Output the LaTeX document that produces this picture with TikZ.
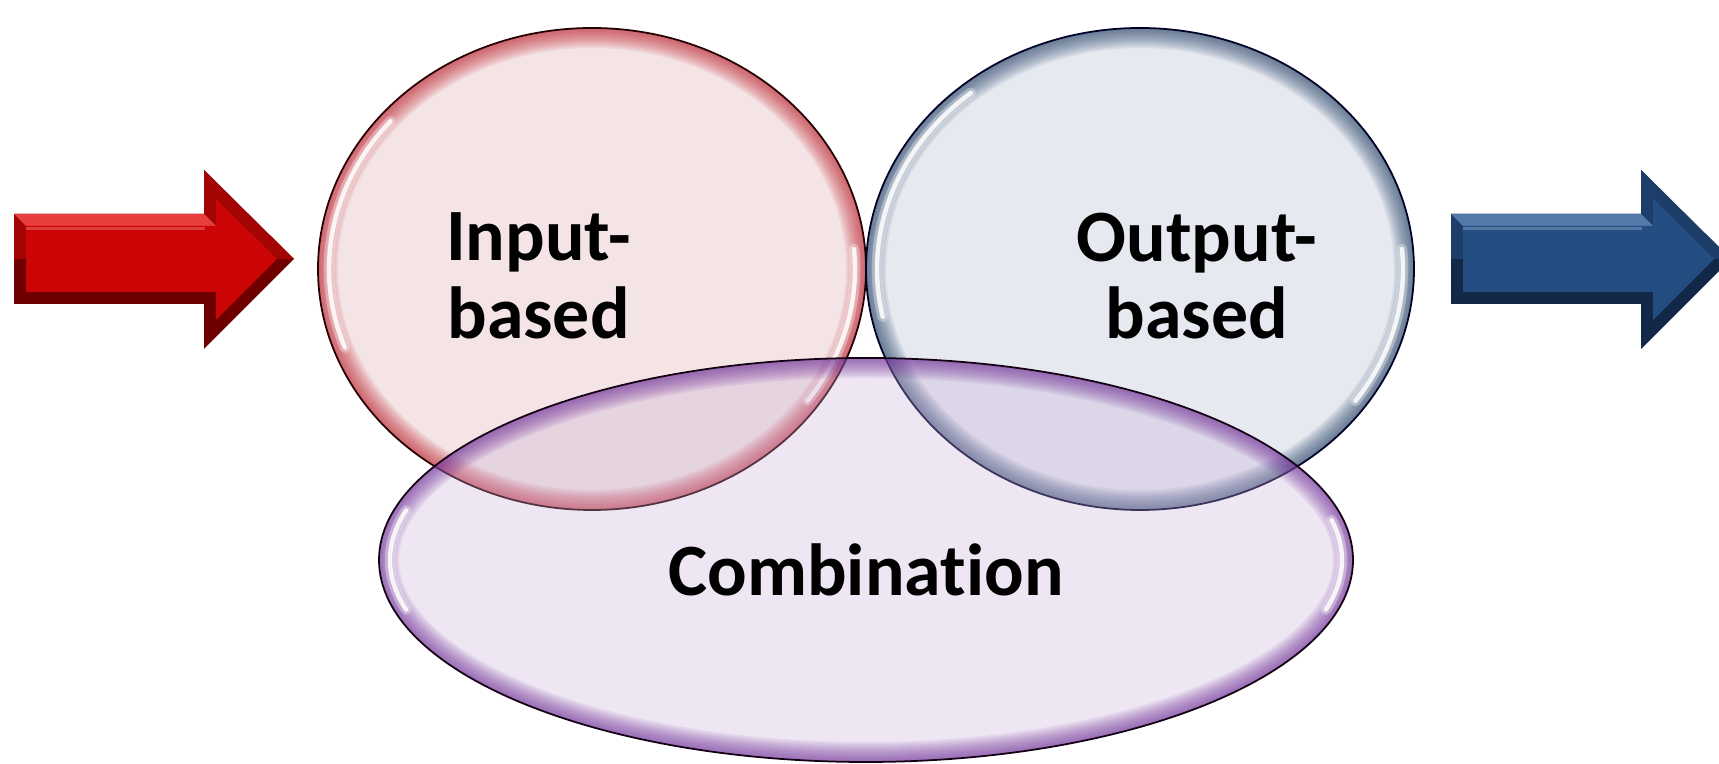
\documentclass[tikz,border=0pt]{standalone}
\usepackage{fontspec}
\setmainfont{Carlito}[Ligatures=NoCommon]

\definecolor{facered}{RGB}{204,6,6}
\definecolor{lightred}{RGB}{232,62,62}
\definecolor{darkred}{RGB}{112,0,0}
\definecolor{faceblue}{RGB}{36,78,130}
\definecolor{lightblue}{RGB}{84,122,170}
\definecolor{darkblue}{RGB}{18,40,70}
\definecolor{inred}{RGB}{222,165,168}
\definecolor{outblue}{RGB}{172,182,205}
\definecolor{combviolet}{RGB}{198,172,215}
\definecolor{rimred}{RGB}{185,30,42}
\definecolor{rimblue}{RGB}{34,62,100}
\definecolor{rimviolet}{RGB}{108,42,148}

% glass bubble: tinted fill, darker band inside the rim, thin border
\newcommand{\bubble}[6]{%
  \fill[#4, opacity=0.3] #1 ellipse [x radius=#2, y radius=#3];
  \begin{scope}
    \clip #1 ellipse [x radius=#2, y radius=#3];
    \foreach \i in {1,...,10}
      \draw[#5, line width=\i*0.08cm, opacity=0.09] #1 ellipse [x radius=#2, y radius=#3];
  \end{scope}
  \draw[#6, line width=1pt] #1 ellipse [x radius=#2, y radius=#3];
}

% white gleam just inside the rim
\newcommand{\gleam}[5]{%
  \begin{scope}[shift={#1}]
    \draw[white, line width=6pt, opacity=0.3, line cap=round]
      (#4:#2 and #3) arc [start angle=#4, end angle=#5, x radius=#2, y radius=#3];
    \draw[white, line width=2.5pt, opacity=0.85, line cap=round]
      (#4:#2 and #3) arc [start angle=#4, end angle=#5, x radius=#2, y radius=#3];
  \end{scope}
}

% bevelled block arrow
\newcommand{\bevelarrow}[5]{%
  \begin{scope}[xshift=#1cm]
    \fill[#4] (0.28,9.20) -- (4.08,9.20) -- (4.08,8.30) -- (5.88,10.10)
      -- (4.08,11.88) -- (4.08,11.00) -- (0.28,11.00) -- cycle;
    \fill[#2!80!black] (0.28,10.10) -- (0.28,11.00) -- (4.08,11.00)
      -- (4.08,11.88) -- (5.88,10.10) -- cycle;
    \fill[#3] (0.28,11.00) -- (4.08,11.00) -- (4.32,10.76) -- (0.52,10.76) -- cycle;
    \fill[#2] (0.52,9.44) -- (4.32,9.44) -- (4.32,8.88) -- (5.54,10.10)
      -- (4.32,11.30) -- (4.32,10.76) -- (0.52,10.76) -- cycle;
    \fill[#5, opacity=0.5] (0.52,10.74) -- (4.10,10.74) -- (4.10,10.68) -- (0.52,10.68) -- cycle;
  \end{scope}
}

\begin{document}
\begin{tikzpicture}
  \useasboundingbox (0,0) rectangle (34.38,15.28);

  % the two circles
  \bubble{(11.84,9.90)}{5.48}{4.82}{inred}{rimred}{black!85!red}
  \gleam{(11.84,9.90)}{5.26}{4.60}{140}{200}
  \gleam{(11.84,9.90)}{5.26}{4.60}{-35}{5}

  \bubble{(22.80,9.90)}{5.48}{4.82}{outblue}{rimblue}{black!85!blue}
  \gleam{(22.80,9.90)}{5.26}{4.60}{130}{192}
  \gleam{(22.80,9.90)}{5.26}{4.60}{-35}{5}

  % the wide one underneath
  \bubble{(17.32,4.08)}{9.74}{4.04}{combviolet}{rimviolet}{black!85!violet}
  \gleam{(17.32,4.08)}{9.52}{3.84}{165}{195}
  \gleam{(17.32,4.08)}{9.52}{3.84}{-15}{12}

  \begin{scope}[every node/.style={font=\fontsize{42}{44}\selectfont\bfseries,
                                   align=center, inner sep=0pt}]
    \node (inp) at (10.77,9.76) {Input-\\based};
    \node (outp) at (23.94,9.76) {Output-\\based};
    \node (comb) at (17.32,3.88) {Combination};
  \end{scope}

  % in and out arrows
  \bevelarrow{0}{facered}{lightred}{darkred}{lightred!70!white}
  \bevelarrow{28.74}{faceblue}{lightblue}{darkblue}{lightblue!70!white}
\end{tikzpicture}
\end{document}
